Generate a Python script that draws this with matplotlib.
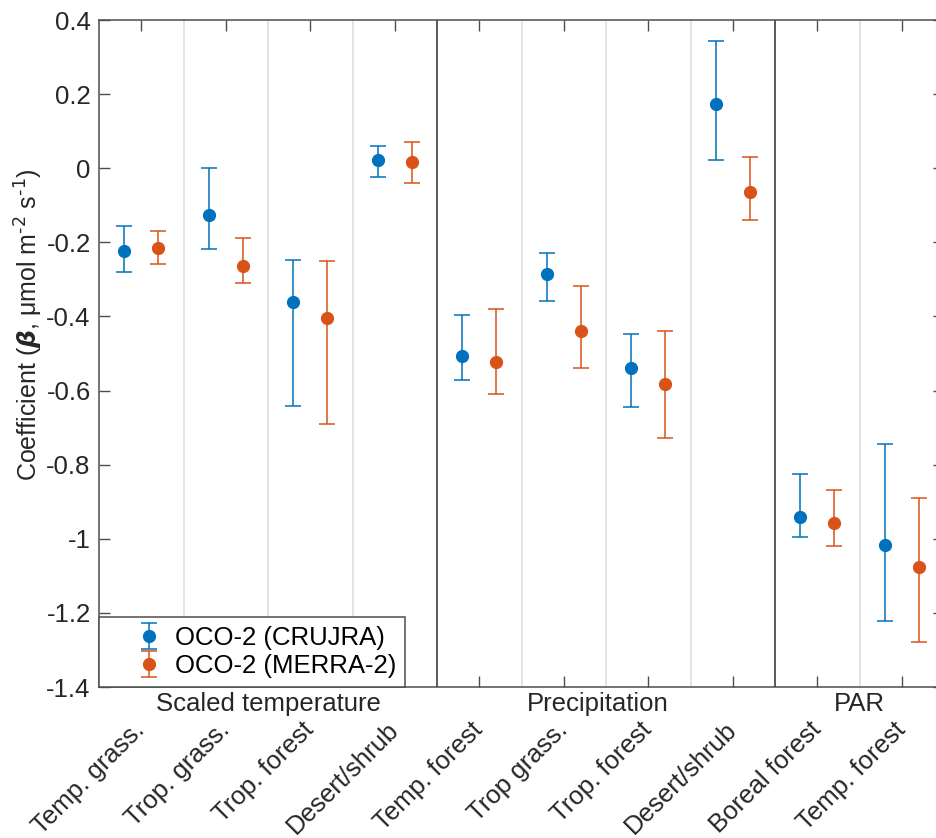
import matplotlib.pyplot as plt
import matplotlib.transforms as mtransforms
import numpy as np

plt.rcParams['font.family'] = ['Liberation Sans', 'DejaVu Sans']

# ---------------------- data -------------------------
categories = ['Temp. grass.', 'Trop. grass.', 'Trop. forest', 'Desert/shrub',
              'Temp. forest', 'Trop grass.', 'Trop. forest', 'Desert/shrub',
              'Boreal forest', 'Temp. forest']
groups     = ['Scaled temperature', 'Precipitation', 'PAR']
group_pos  = [2.5, 6.4, 9.5]
group_sep  = [4.5, 8.5]
sub_sep    = [1.5, 2.5, 3.5, 5.5, 6.5, 7.5, 9.5]

cru_mean  = [-0.223, -0.125, -0.361, 0.021, -0.506, -0.285, -0.538, 0.173, -0.940, -1.016]
cru_upper = [-0.157, 0.000, -0.248, 0.059, -0.397, -0.229, -0.447, 0.342, -0.826, -0.745]
cru_lower = [-0.279, -0.219, -0.643, -0.025, -0.572, -0.358, -0.645, 0.023, -0.994, -1.221]

mer_mean  = [-0.214, -0.264, -0.404, 0.016, -0.524, -0.439, -0.581, -0.064, -0.957, -1.076]
mer_upper = [-0.169, -0.189, -0.250, 0.071, -0.379, -0.319, -0.439, 0.031, -0.869, -0.889]
mer_lower = [-0.259, -0.309, -0.689, -0.039, -0.609, -0.539, -0.729, -0.139, -1.020, -1.278]

yticks      = [0.4, 0.2, 0, -0.2, -0.4, -0.6, -0.8, -1, -1.2, -1.4]
ytick_labels = ['0.4', '0.2', '0', '-0.2', '-0.4', '-0.6', '-0.8', '-1', '-1.2', '-1.4']

blue   = '#0072BD'
orange = '#D95319'
txt    = '#262626'
fs     = 18.5

# ---------------------- plot -------------------------
fig = plt.figure(figsize=(9.37, 8.38), dpi=100)
ax  = fig.add_axes([99/937, 151/838, 845/937, 667/838])

x = np.arange(1, len(categories)+1)
cru = np.array(cru_mean); mer = np.array(mer_mean)
ax.errorbar(x-0.2, cru, yerr=[cru-np.array(cru_lower), np.array(cru_upper)-cru],
            fmt='o', color=blue, ecolor=blue, elinewidth=1.1, capsize=6, capthick=1.1,
            markersize=8.5, label='OCO-2 (CRUJRA)', zorder=3)
ax.errorbar(x+0.2, mer, yerr=[mer-np.array(mer_lower), np.array(mer_upper)-mer],
            fmt='o', color=orange, ecolor=orange, elinewidth=1.1, capsize=6, capthick=1.1,
            markersize=8.5, label='OCO-2 (MERRA-2)', zorder=3)

for s in sub_sep:
    ax.axvline(s, color='#dcdcdc', lw=1.1, zorder=1)
for s in group_sep:
    ax.axvline(s, color='#4d4d4d', lw=1.3, zorder=1)

ax.set_xlim(0.5, 10.5)
ax.set_ylim(-1.4, 0.4)
ax.set_yticks(yticks)
ax.set_yticklabels(ytick_labels, fontsize=fs, color=txt)
ax.set_xticks(x)
ax.set_xticklabels(categories, fontsize=fs, color=txt, rotation=45,
                   ha='right', va='center', rotation_mode='anchor')
ax.tick_params(axis='both', direction='in', length=8, width=1, color='#4d4d4d',
               top=True, right=True)
ax.tick_params(axis='x', pad=28)
ax.tick_params(axis='y', pad=6)
for sp in ax.spines.values():
    sp.set_color('#4d4d4d'); sp.set_linewidth(1.1)

trans = mtransforms.blended_transform_factory(ax.transData, ax.transAxes)
for g, p in zip(groups, group_pos):
    ax.text(p, -0.025, g, transform=trans, ha='center', va='center', fontsize=fs, color=txt)

ax.set_ylabel(r'Coefficient ($\boldsymbol{\beta}$, μmol m$^{\text{-2}}$ s$^{\text{-1}}$)',
              fontsize=18, color=txt)
ax.yaxis.set_label_coords(-0.064, 0.543)

leg = ax.legend(loc='lower left', bbox_to_anchor=(0, 0), borderaxespad=0, fontsize=fs,
                fancybox=False, framealpha=1, edgecolor='#4d4d4d', handlelength=3.2,
                handletextpad=-0.6, borderpad=0.35, labelspacing=0.15)
leg.get_frame().set_linewidth(1.1)

plt.savefig('out.png', dpi=100)
